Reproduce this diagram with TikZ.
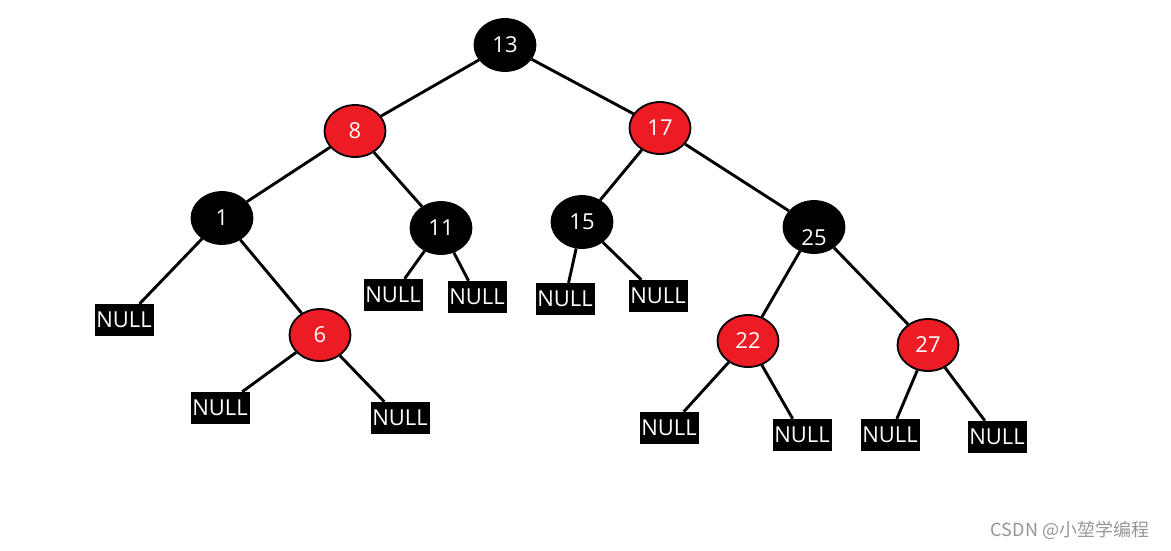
\documentclass[tikz,border=0pt]{standalone}
\usepackage{fontspec}
\setmainfont{Open Sans}
\newfontfamily\cjk{Noto Sans CJK SC}
\usetikzlibrary{shapes.geometric}
\definecolor{rbred}{RGB}{237,28,36}
\definecolor{markgray}{RGB}{150,150,150}
\begin{document}
\begin{tikzpicture}[x=1pt, y=-1pt,
  blk/.style={ellipse, draw=black, line width=1.8pt, fill=black, text=white,
    minimum width=61pt, minimum height=52pt, inner sep=0pt, font=\fontsize{22}{22}\selectfont},
  rednode/.style={blk, fill=rbred},
  nul/.style={rectangle, fill=black, text=white, minimum width=59pt, minimum height=32pt,
    inner sep=0pt, font=\fontsize{22}{22}\selectfont},
  link/.style={line width=2.9pt, black}]
  \useasboundingbox (0,0) rectangle (1171,550);

  % Inner nodes
  \node[blk] (n13) at (505,45)  {13};
  \node[rednode] (n8)  at (355,131) {8};
  \node[rednode] (n17) at (660,128) {17};
  \node[blk] (n1)  at (222,218) {1};
  \node[blk] (n11) at (441,228) {11};
  \node[blk] (n15) at (582,222) {15};
  \node[blk] (n25) at (814,227) {\raisebox{-18pt}[0pt][0pt]{25}};
  \node[rednode] (n6)  at (320,335) {6};
  \node[rednode] (n22) at (748,341) {22};
  \node[rednode] (n27) at (928,345) {27};

  % Leaves
  \node[nul] (l1)  at (124,320) {NULL};
  \node[nul] (l6a) at (220,408) {NULL};
  \node[nul] (l6b) at (400,418) {NULL};
  \node[nul] (l11a) at (393,295) {NULL};
  \node[nul] (l11b) at (477,297) {NULL};
  \node[nul] (l15a) at (565,299) {NULL};
  \node[nul] (l15b) at (658,296) {NULL};
  \node[nul] (l22a) at (669,428) {NULL};
  \node[nul] (l22b) at (802,435) {NULL};
  \node[nul] (l27a) at (890,435) {NULL};
  \node[nul] (l27b) at (997,437) {NULL};

  % Links
  \draw[link] (n13) -- (n8);
  \draw[link] (n13) -- (n17);
  \draw[link] (n8) -- (n1);
  \draw[link] (n8) -- (n11);
  \draw[link] (n17) -- (n15);
  \draw[link] (n17) -- (n25);
  \draw[link] (n1) -- (l1);
  \draw[link] (n1) -- (n6);
  \draw[link] (n6) -- (l6a);
  \draw[link] (n6) -- (l6b);
  \draw[link] (n11) -- (l11a);
  \draw[link] (n11) -- (l11b);
  \draw[link] (n15) -- (l15a);
  \draw[link] (n15) -- (l15b);
  \draw[link] (n25) -- (n22);
  \draw[link] (n25) -- (n27);
  \draw[link] (n22) -- (l22a);
  \draw[link] (n22) -- (l22b);
  \draw[link] (n27) -- (l27a);
  \draw[link] (n27) -- (l27b);

  % Watermark
  \node[text=markgray, font=\cjk\fontsize{18}{18}\selectfont] (mark) at (1070,530) {CSDN @小堃学编程};
\end{tikzpicture}
\end{document}
